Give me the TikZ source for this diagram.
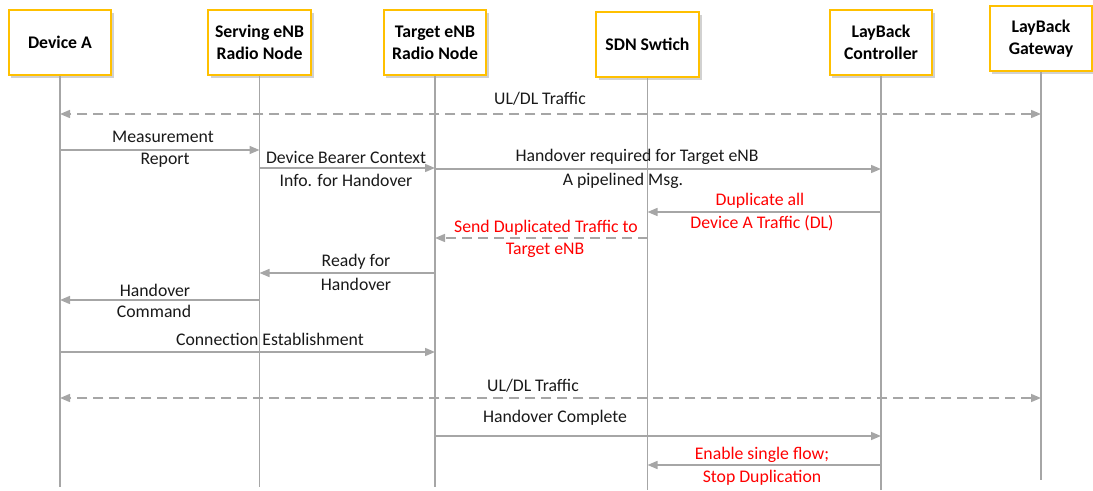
\documentclass[tikz,border=0pt]{standalone}
\usepackage{fontspec}
\setmainfont{Carlito}
\usetikzlibrary{arrows.meta,shadows}
\definecolor{boxgold}{HTML}{FFC000}
\definecolor{lgray}{HTML}{A6A6A6}
\definecolor{redtxt}{HTML}{FF0000}
\begin{document}
\begin{tikzpicture}[x=0.75pt,y=-0.75pt,
  actor/.style={draw=boxgold,line width=1.5pt,fill=white,minimum width=77pt,minimum height=48.75pt,inner sep=0pt,align=center,font=\fontsize{13.3}{16.5}\selectfont\bfseries,drop shadow={shadow xshift=2pt,shadow yshift=-2pt,fill=black!30,opacity=0.6}},
  life/.style={draw=lgray,line width=1.1pt},
  msg/.style={draw=lgray,line width=1.1pt,-{Triangle[length=7.5pt,width=6pt]}},
  dmsg/.style={msg,dash pattern=on 7.5pt off 4.5pt},
  bmsg/.style={dmsg,{Triangle[length=7.5pt,width=6pt]}-{Triangle[length=7.5pt,width=6pt]}},
  lbl/.style={font=\fontsize{13.3}{16}\selectfont,inner sep=0pt,text=black!90},
  rlbl/.style={lbl,text=redtxt}]
\useasboundingbox (0,0) rectangle (1093,491);
% actors
\node[actor] (dev) at (60,42.5) {Device A};
\node[actor] (serv) at (259.5,42.5) {Serving eNB\\Radio Node};
\node[actor] (targ) at (435,42.5) {Target eNB\\Radio Node};
\node[actor] (sdn) at (647.5,44.5) {SDN Swtich};
\node[actor] (ctrl) at (881,42.5) {LayBack\\Controller};
\node[actor] (gw) at (1041,38.5) {LayBack\\Gateway};
% lifelines
\draw[life] (dev.south) -- (dev |- 0,487);
\draw[life] (serv.south) -- (serv |- 0,487);
\draw[life] (targ.south) -- (targ |- 0,487);
\draw[life] (sdn.south) -- (sdn |- 0,490);
\draw[life] (ctrl.south) -- (ctrl |- 0,490);
\draw[life] (gw.south) -- (gw |- 0,480);
% messages
\draw[bmsg] (gw |- 0,114) -- (dev |- 0,114);
\node[lbl] (t1) at (540,99) {UL/DL Traffic};

\draw[msg] (dev |- 0,150) -- (serv |- 0,150);
\node[lbl] (t2a) at (163,137) {Measurement};
\node[lbl] (t2b) at (165,160) {Report};

\draw[msg] (serv |- 0,168) -- (targ |- 0,168);
\node[lbl] (t3a) at (346,157) {Device Bearer Context};
\node[lbl] (t3b) at (346,180) {Info. for Handover};

\draw[msg] (targ |- 0,169) -- (ctrl |- 0,169);
\node[lbl] (t4a) at (637,157) {Handover required for Target eNB};
\node[lbl] (t4b) at (623,181) {A pipelined Msg.};

\draw[msg] (ctrl |- 0,212) -- (sdn |- 0,212);
\node[rlbl] (t5a) at (760,201) {Duplicate all};
\node[rlbl] (t5b) at (762,223) {Device A Traffic (DL)};

\draw[dmsg] (sdn |- 0,238) -- (targ |- 0,238);
\node[rlbl] (t6a) at (546,228) {Send Duplicated Traffic to};
\node[rlbl] (t6b) at (545,250) {Target eNB};

\draw[msg] (targ |- 0,273) -- (serv |- 0,273);
\node[lbl] (t7a) at (356,262) {Ready for};
\node[lbl] (t7b) at (356,284) {Handover};

\draw[msg] (serv |- 0,300) -- (dev |- 0,300);
\node[lbl] (t8a) at (155,290) {Handover};
\node[lbl] (t8b) at (154,311) {Command};

\draw[msg] (dev |- 0,352) -- (targ |- 0,352);
\node[lbl] (t9) at (270,339) {Connection Establishment};

\draw[bmsg] (gw |- 0,398) -- (dev |- 0,398);
\node[lbl] (t10) at (533,386) {UL/DL Traffic};

\draw[msg] (targ |- 0,436) -- (ctrl |- 0,436);
\node[lbl] (t11) at (555,418) {Handover Complete};

\draw[msg] (ctrl |- 0,465) -- (sdn |- 0,465);
\node[rlbl] (t12a) at (762,455) {Enable single flow;};
\node[rlbl] (t12b) at (762,478) {Stop Duplication};
\end{tikzpicture}
\end{document}
